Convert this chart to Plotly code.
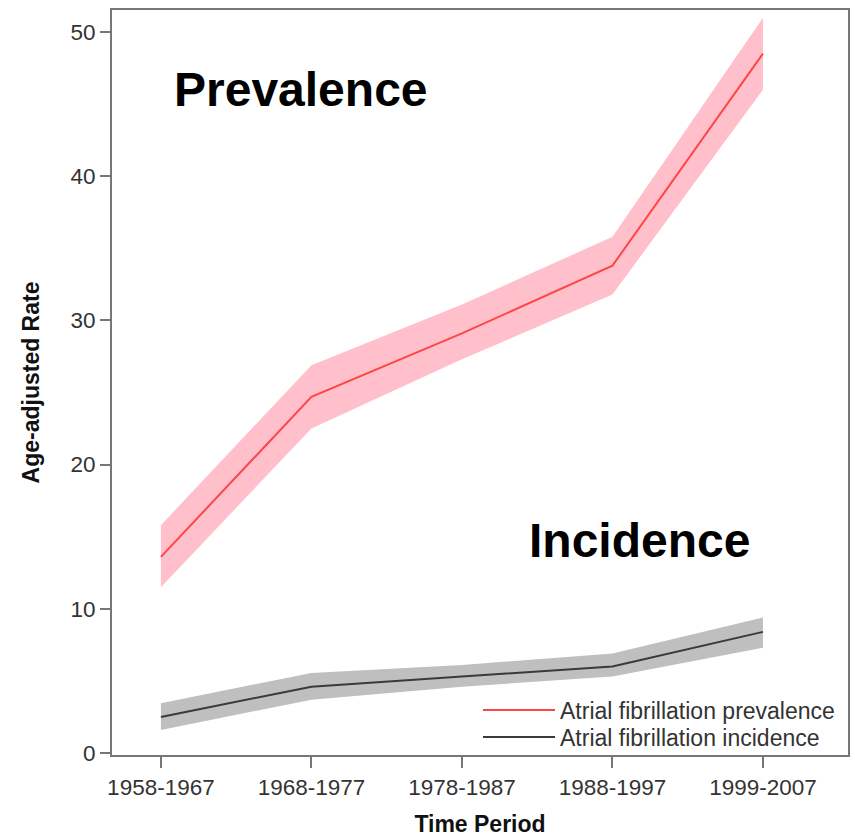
import plotly.graph_objects as go

periods = ["1958-1967", "1968-1977", "1978-1987", "1988-1997", "1999-2007"]
prev_rate = [13.6, 24.7, 29.1, 33.8, 48.5]
prev_upper = [15.8, 26.9, 31.1, 35.8, 51.0]
prev_lower = [11.5, 22.5, 27.3, 31.8, 46.0]
inc_rate = [2.5, 4.6, 5.3, 6.0, 8.4]
inc_upper = [3.45, 5.55, 6.1, 6.9, 9.4]
inc_lower = [1.6, 3.7, 4.6, 5.3, 7.3]
y_ticks = [0, 10, 20, 30, 40, 50]

FONT = "Liberation Sans, Arial, sans-serif"
xs = list(range(len(periods)))

fig = go.Figure()
fig.add_trace(go.Scatter(
    x=xs + xs[::-1], y=prev_upper + prev_lower[::-1],
    fill="toself", fillcolor="#ffc0cb", line=dict(width=0),
    mode="lines", showlegend=False, hoverinfo="skip"))
fig.add_trace(go.Scatter(
    x=xs + xs[::-1], y=inc_upper + inc_lower[::-1],
    fill="toself", fillcolor="#bfbfbf", line=dict(width=0),
    mode="lines", showlegend=False, hoverinfo="skip"))
fig.add_trace(go.Scatter(
    x=xs, y=prev_rate, mode="lines", line=dict(color="#ff4545", width=2),
    name="Atrial fibrillation prevalence", legend="legend"))
fig.add_trace(go.Scatter(
    x=xs, y=inc_rate, mode="lines", line=dict(color="#3a3a3a", width=2),
    name="Atrial fibrillation incidence", legend="legend2"))

fig.add_annotation(text="<b>Prevalence</b>", xref="paper", yref="paper",
                   x=(172 - 112) / 736, y=(755 - 90) / 745, xanchor="left", yanchor="middle",
                   showarrow=False, font=dict(family=FONT, size=48, color="#000"))
fig.add_annotation(text="<b>Incidence</b>", xref="paper", yref="paper",
                   x=(527 - 112) / 736, y=(755 - 540) / 745, xanchor="left", yanchor="middle",
                   showarrow=False, font=dict(family=FONT, size=48, color="#000"))

leg_common = dict(xanchor="left", yanchor="middle",
                  font=dict(family=FONT, size=23, color="#333"), itemwidth=72,
                  bgcolor="rgba(0,0,0,0)")

fig.update_layout(
    width=855, height=837,
    margin=dict(l=112, r=7, t=10, b=82),
    plot_bgcolor="white", paper_bgcolor="white",
    font=dict(family=FONT, color="#333"),
    legend=dict(x=(478 - 112) / 736, y=(755 - 710) / 745, **leg_common),
    legend2=dict(x=(478 - 112) / 736, y=(755 - 737) / 745, **leg_common),
    xaxis=dict(range=[-0.325, 4.565], tickvals=xs, ticktext=periods,
               showline=True, linecolor="#777", linewidth=2, mirror=True,
               ticks="outside", ticklen=11, tickcolor="#777", tickwidth=1.5,
               showgrid=False, zeroline=False, automargin=False,
               tickfont=dict(family=FONT, size=22.5, color="#333"),
               title=dict(text="<b>Time Period</b>", font=dict(family=FONT, size=23, color="#111"),
                          standoff=22)),
    yaxis=dict(range=[-0.14, 51.53], tickvals=y_ticks,
               showline=True, linecolor="#777", linewidth=2, mirror=True,
               ticks="outside", ticklen=10, tickcolor="#777", tickwidth=1.5,
               showgrid=False, zeroline=False, automargin=False,
               tickfont=dict(family=FONT, size=22.5, color="#333"),
               title=dict(text="<b>Age-adjusted Rate</b>", font=dict(family=FONT, size=23, color="#111"),
                          standoff=24)),
)

fig.write_html("out.html")
